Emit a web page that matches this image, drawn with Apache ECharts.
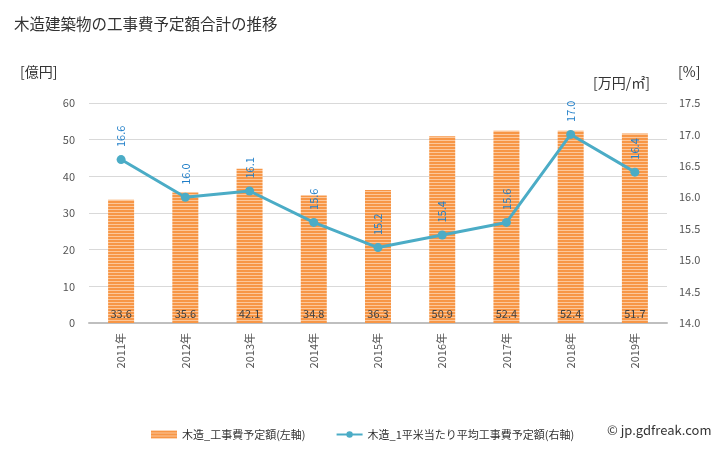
<!DOCTYPE html>
<html><head><meta charset="utf-8">
<script src="https://cdn.jsdelivr.net/npm/echarts@6/dist/echarts.min.js"></script>
<style>html,body{margin:0;padding:0;background:#fff}#c{width:728px;height:450px}</style>
</head><body><div id="c"></div>
<script>
const categories = ['2011年','2012年','2013年','2014年','2015年','2016年','2017年','2018年','2019年'];
const costTotal = [33.6, 35.6, 42.1, 34.8, 36.3, 50.9, 52.4, 52.4, 51.7];
const costPerSqm = [16.6, 16.0, 16.1, 15.6, 15.2, 15.4, 15.6, 17.0, 16.4];
const leftTicks = [0, 60, 10];
const rightTicks = [14.0, 17.5, 0.5];
const seriesNames = ['木造_工事費予定額(左軸)', '木造_1平米当たり平均工事費予定額(右軸)'];

const FONT = '"Noto Sans CJK JP", "Noto Sans", sans-serif';
const pc = document.createElement('canvas');
pc.width = 4; pc.height = 3;
const ctx = pc.getContext('2d');
ctx.fillStyle = '#F79646'; ctx.fillRect(0,0,4,2);
ctx.fillStyle = '#FCC79A'; ctx.fillRect(0,2,4,1);

const chart = echarts.init(document.getElementById('c'), null, {renderer:'canvas'});
chart.setOption({
  animation: false,
  textStyle: {fontFamily: FONT},
  title: {text: '木造建築物の工事費予定額合計の推移', left: 9, top: 11,
    textStyle: {fontSize: 15.5, fontWeight: 'normal', color: '#333', fontFamily: FONT}},
  graphic: [
    {type:'text', left: 20, top: 65, style:{text:'[億円]', fontSize:14, fill:'#333', fontFamily: FONT}},
    {type:'text', left: 593, top: 76, style:{text:'[万円/㎡]', fontSize:14, fill:'#333', fontFamily: FONT}},
    {type:'text', left: 678, top: 65, style:{text:'[%]', fontSize:14, fill:'#333', fontFamily: FONT}},
    {type:'text', left: 607, top: 424, style:{text:'© jp.gdfreak.com', fontSize:13, fill:'#333', fontFamily: FONT}}
  ],
  grid: {left: 89, right: 61, top: 103, bottom: 127},
  legend: {
    left: 146, top: 424, itemGap: 30, itemWidth: 26, itemHeight: 8,
    textStyle: {fontSize: 11, color: '#333', fontFamily: FONT},
    data: [
      {name: seriesNames[0], icon: 'rect'},
      {name: seriesNames[1]}
    ]
  },
  xAxis: {
    type: 'category', data: categories,
    axisLine: {lineStyle: {color: '#BFBFBF', width: 2}},
    axisTick: {show: false},
    axisLabel: {rotate: 90, fontSize: 11, color: '#555', margin: 10, fontFamily: FONT}
  },
  yAxis: [
    {type: 'value', min: leftTicks[0], max: leftTicks[1], interval: leftTicks[2],
     axisLine: {show: false}, axisTick: {show: false},
     splitLine: {lineStyle: {color: '#D9D9D9', width: 1}},
     axisLabel: {fontSize: 11, color: '#555', margin: 14, fontFamily: FONT}},
    {type: 'value', min: rightTicks[0], max: rightTicks[1], interval: rightTicks[2],
     axisLine: {show: false}, axisTick: {show: false}, splitLine: {show: false},
     axisLabel: {fontSize: 11, color: '#555', margin: 12, fontFamily: FONT,
       formatter: v => v.toFixed(1)}}
  ],
  series: [
    {name: seriesNames[0], type: 'bar', yAxisIndex: 0, data: costTotal, barWidth: 26,
     itemStyle: {color: {image: pc, repeat: 'repeat'}},
     label: {show: true, position: 'insideBottom', distance: 4, fontSize: 11, color: '#404040',
       fontFamily: FONT, formatter: p => p.value.toFixed(1)}},
    {name: seriesNames[1], type: 'line', yAxisIndex: 1, data: costPerSqm, z: 5,
     symbol: 'circle', symbolSize: 9,
     lineStyle: {color: '#4BACC6', width: 3},
     itemStyle: {color: '#4BACC6'},
     label: {show: true, position: 'top', distance: 8, rotate: 90, align: 'left', verticalAlign: 'middle',
       fontSize: 11, color: '#1F7EC8', fontFamily: FONT, formatter: p => p.value.toFixed(1)}}
  ]
});
</script></body></html>
